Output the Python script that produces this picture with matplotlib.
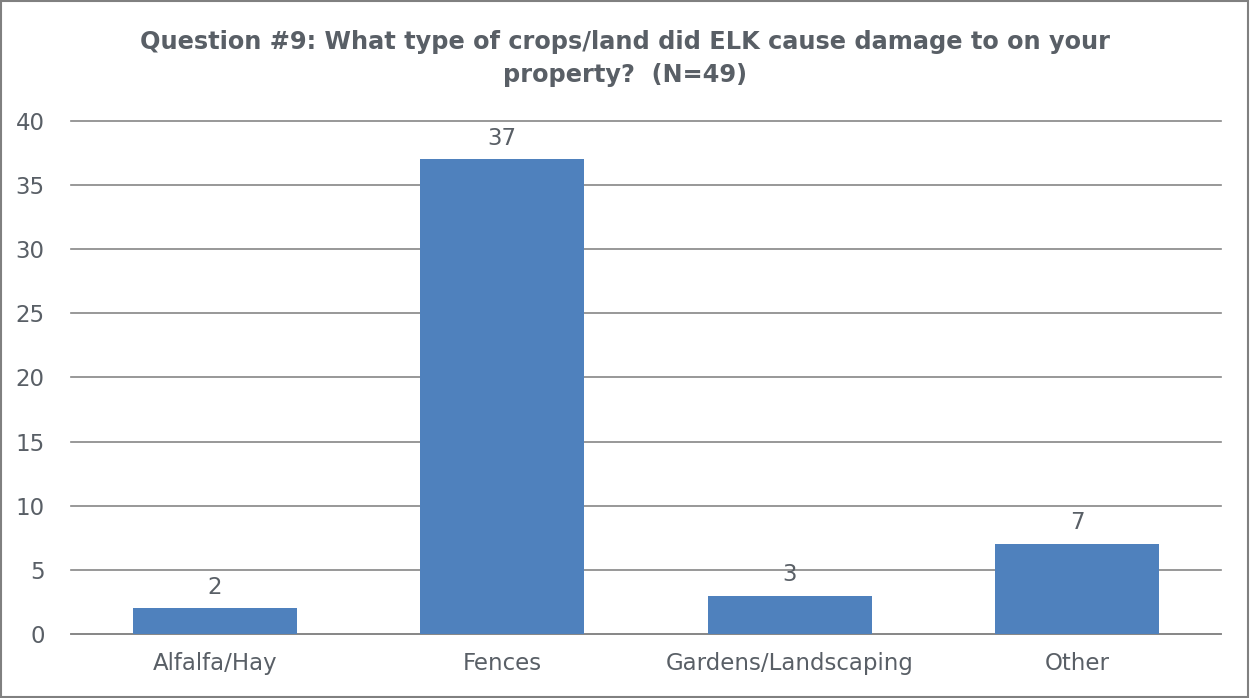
import matplotlib.pyplot as plt

# data
categories = ['Alfalfa/Hay', 'Fences', 'Gardens/Landscaping', 'Other']
counts = [2, 37, 3, 7]
y_ticks = [0, 5, 10, 15, 20, 25, 30, 35, 40]

text_color = '#595f66'
bar_color = '#4f81bd'
grid_color = '#868686'

fig = plt.figure(figsize=(12.5, 6.98), dpi=100)
ax = fig.add_axes([0.0568, 0.0917, 0.92, 0.735])

x = range(len(categories))
bars = ax.bar(x, counts, width=0.57, color=bar_color, zorder=3)

# value labels above bars
for rect, val in zip(bars, counts):
    ax.annotate(str(val), (rect.get_x() + rect.get_width() / 2, rect.get_height()),
                xytext=(0, 7), textcoords='offset points', ha='center', va='bottom',
                fontsize=16.5, color=text_color)

ax.set_xlim(-0.5, len(categories) - 0.5)
ax.set_ylim(0, 40)
ax.set_yticks(y_ticks)
ax.set_xticks(list(x))
ax.set_xticklabels(categories)
ax.tick_params(axis='both', length=0, labelsize=16.5, labelcolor=text_color)
ax.tick_params(axis='y', pad=19)
ax.tick_params(axis='x', pad=13)
ax.yaxis.grid(True, color=grid_color, linewidth=1.2, zorder=0)
for line in ax.get_ygridlines():
    line.set_clip_on(False)

for side in ['top', 'right', 'left']:
    ax.spines[side].set_visible(False)
ax.spines['bottom'].set_color(grid_color)
ax.spines['bottom'].set_linewidth(1.2)

fig.text(0.5, 0.916, 'Question #9: What type of crops/land did ELK cause damage to on your\nproperty?  (N=49)',
         ha='center', va='center', fontsize=17.3, fontweight='bold', color=text_color, linespacing=1.5)

# outer frame
fig.patches.append(plt.Rectangle((0.001, 0.002), 0.997, 0.996, transform=fig.transFigure,
                                 fill=False, edgecolor='#808080', linewidth=1.5))

fig.savefig('out.png', dpi=100)
